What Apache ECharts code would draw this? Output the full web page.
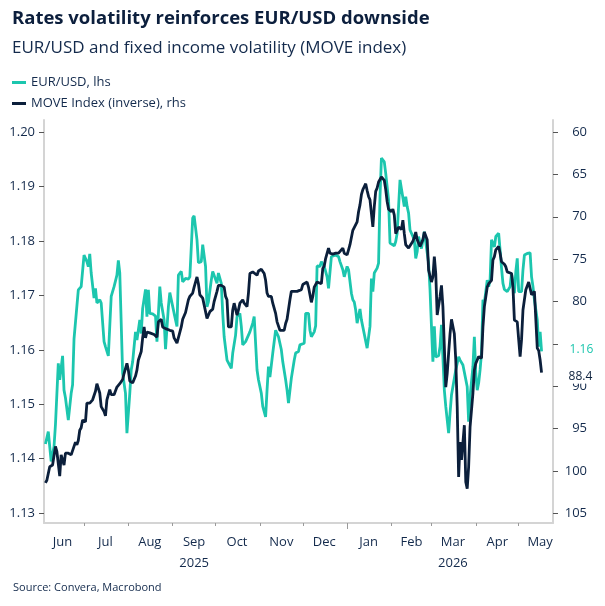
<!DOCTYPE html>
<html>
<head>
<meta charset="utf-8">
<script src="https://cdn.jsdelivr.net/npm/echarts@6/dist/echarts.min.js"></script>
<style>
  html, body { margin: 0; padding: 0; background: #fff; }
  #chart { width: 605px; height: 606px; }
</style>
</head>
<body>
<div id="chart"></div>
<script>
// EUR/USD, left axis
const eurDates = [
  '2025-06-04','2025-06-06','2025-06-08','2025-06-10','2025-06-11','2025-06-13','2025-06-14','2025-06-16','2025-06-17','2025-06-18',
  '2025-06-20','2025-06-22','2025-06-23','2025-06-24','2025-06-25','2025-06-27','2025-06-29','2025-07-01','2025-07-03','2025-07-04',
  '2025-07-05','2025-07-06','2025-07-08','2025-07-09','2025-07-10','2025-07-12','2025-07-13','2025-07-15','2025-07-16','2025-07-18',
  '2025-07-20','2025-07-22','2025-07-24','2025-07-25','2025-07-26','2025-07-28','2025-07-30','2025-07-31','2025-08-02','2025-08-03',
  '2025-08-04','2025-08-06','2025-08-07','2025-08-09','2025-08-10','2025-08-11','2025-08-13','2025-08-14','2025-08-15','2025-08-16',
  '2025-08-18','2025-08-20','2025-08-21','2025-08-23','2025-08-24','2025-08-26','2025-08-27','2025-08-29','2025-08-30','2025-08-31',
  '2025-09-02','2025-09-03','2025-09-04','2025-09-05','2025-09-07','2025-09-08','2025-09-10','2025-09-12','2025-09-13','2025-09-15',
  '2025-09-16','2025-09-18','2025-09-19','2025-09-21','2025-09-22','2025-09-24','2025-09-25','2025-09-26','2025-09-28','2025-09-29',
  '2025-09-30','2025-10-02','2025-10-03','2025-10-05','2025-10-06','2025-10-07','2025-10-09','2025-10-10','2025-10-12','2025-10-13',
  '2025-10-15','2025-10-16','2025-10-18','2025-10-19','2025-10-20','2025-10-22','2025-10-23','2025-10-25','2025-10-27','2025-10-28',
  '2025-10-30','2025-10-31','2025-11-02','2025-11-03','2025-11-05','2025-11-06','2025-11-07','2025-11-08','2025-11-10','2025-11-11',
  '2025-11-12','2025-11-14','2025-11-16','2025-11-17','2025-11-19','2025-11-20','2025-11-21','2025-11-23','2025-11-25','2025-11-26',
  '2025-11-28','2025-11-29','2025-11-30','2025-12-02','2025-12-03','2025-12-05','2025-12-06','2025-12-07','2025-12-09','2025-12-10',
  '2025-12-11','2025-12-12','2025-12-13','2025-12-14','2025-12-15','2025-12-16','2025-12-18','2025-12-19','2025-12-21','2025-12-22',
  '2025-12-24','2025-12-26','2025-12-27','2025-12-29','2025-12-30','2026-01-01','2026-01-02','2026-01-04','2026-01-05','2026-01-06',
  '2026-01-07','2026-01-08','2026-01-10','2026-01-11','2026-01-12','2026-01-15','2026-01-16','2026-01-17','2026-01-18','2026-01-19',
  '2026-01-20','2026-01-22','2026-01-23','2026-01-24','2026-01-25','2026-01-26','2026-01-27','2026-01-28','2026-01-30','2026-01-31',
  '2026-02-01','2026-02-03','2026-02-04','2026-02-05','2026-02-06','2026-02-07','2026-02-08','2026-02-10','2026-02-11','2026-02-12',
  '2026-02-13','2026-02-14','2026-02-15','2026-02-17','2026-02-18','2026-02-19','2026-02-20','2026-02-21','2026-02-22','2026-02-24',
  '2026-02-25','2026-02-27','2026-02-28','2026-03-01','2026-03-02','2026-03-03','2026-03-04','2026-03-05','2026-03-06','2026-03-07',
  '2026-03-08','2026-03-10','2026-03-11','2026-03-13','2026-03-14','2026-03-15','2026-03-16','2026-03-18','2026-03-20','2026-03-21',
  '2026-03-23','2026-03-24','2026-03-26','2026-03-27','2026-03-28','2026-03-30','2026-03-31','2026-04-01','2026-04-02','2026-04-03',
  '2026-04-04','2026-04-05','2026-04-06','2026-04-07','2026-04-09','2026-04-10','2026-04-11','2026-04-12','2026-04-13','2026-04-14',
  '2026-04-15','2026-04-17','2026-04-18','2026-04-19','2026-04-20','2026-04-21','2026-04-23','2026-04-25','2026-04-26','2026-04-28',
  '2026-04-29','2026-04-30','2026-05-01','2026-05-03','2026-05-04','2026-05-05','2026-05-07','2026-05-09','2026-05-10','2026-05-11',
  '2026-05-12','2026-05-14','2026-05-15','2026-05-16','2026-05-17'
]
const eurValues = [
  1.1427,1.1450,1.1395,1.1422,1.1462,1.1575,1.1545,1.1589,1.1526,1.1512,
  1.1471,1.1520,1.1536,1.1620,1.1622,1.1710,1.1716,1.1774,1.1762,1.1753,
  1.1776,1.1741,1.1695,1.1713,1.1686,1.1692,1.1686,1.1615,1.1606,1.1589,
  1.1698,1.1716,1.1737,1.1764,1.1741,1.1557,1.1520,1.1447,1.1520,1.1563,
  1.1578,1.1633,1.1618,1.1655,1.1630,1.1676,1.1711,1.1661,1.1710,1.1667,
  1.1666,1.1662,1.1615,1.1716,1.1686,1.1655,1.1601,1.1679,1.1705,1.1707,
  1.1667,1.1670,1.1643,1.1737,1.1744,1.1725,1.1731,1.1730,1.1734,1.1842,
  1.1846,1.1802,1.1760,1.1762,1.1793,1.1753,1.1679,1.1688,1.1728,1.1744,
  1.1741,1.1722,1.1741,1.1722,1.1667,1.1624,1.1581,1.1578,1.1566,1.1594,
  1.1627,1.1661,1.1667,1.1643,1.1609,1.1615,1.1618,1.1633,1.1649,1.1661,
  1.1563,1.1545,1.1520,1.1496,1.1477,1.1526,1.1569,1.1550,1.1594,1.1595,
  1.1636,1.1624,1.1600,1.1578,1.1545,1.1526,1.1502,1.1548,1.1581,1.1594,
  1.1597,1.1609,1.1606,1.1612,1.1667,1.1667,1.1636,1.1624,1.1633,1.1644,
  1.1754,1.1754,1.1753,1.1762,1.1764,1.1753,1.1734,1.1713,1.1771,1.1774,
  1.1774,1.1771,1.1762,1.1747,1.1734,1.1753,1.1747,1.1704,1.1692,1.1688,
  1.1673,1.1649,1.1675,1.1655,1.1656,1.1603,1.1600,1.1643,1.1731,1.1707,
  1.1741,1.1750,1.1759,1.1881,1.1952,1.1955,1.1945,1.1924,1.1875,1.1796,
  1.1799,1.1791,1.1799,1.1814,1.1863,1.1912,1.1912,1.1863,1.1881,1.1863,
  1.1851,1.1820,1.1817,1.1802,1.1768,1.1780,1.1808,1.1796,1.1786,1.1817,
  1.1814,1.1759,1.1710,1.1643,1.1578,1.1643,1.1587,1.1585,1.1589,1.1606,
  1.1646,1.1526,1.1496,1.1447,1.1484,1.1517,1.1517,1.1563,1.1587,1.1581,
  1.1572,1.1569,1.1532,1.1468,1.1514,1.1569,1.1624,1.1557,1.1526,1.1539,
  1.1563,1.1594,1.1692,1.1686,1.1728,1.1716,1.1728,1.1802,1.1799,1.1789,
  1.1808,1.1814,1.1783,1.1750,1.1722,1.1711,1.1707,1.1716,1.1741,1.1704,
  1.1744,1.1768,1.1707,1.1707,1.1747,1.1774,1.1777,1.1778,1.1734,1.1716,
  1.1692,1.1655,1.1606,1.1633,1.1597
]

// MOVE index, right axis (inverted)
const moveDates = [
  '2025-06-04','2025-06-05','2025-06-07','2025-06-08','2025-06-09','2025-06-11','2025-06-12','2025-06-14','2025-06-15','2025-06-17',
  '2025-06-18','2025-06-20','2025-06-22','2025-06-23','2025-06-25','2025-06-26','2025-06-27','2025-06-28','2025-06-29','2025-06-30',
  '2025-07-02','2025-07-03','2025-07-05','2025-07-07','2025-07-09','2025-07-10','2025-07-12','2025-07-13','2025-07-15','2025-07-16',
  '2025-07-17','2025-07-19','2025-07-20','2025-07-22','2025-07-23','2025-07-24','2025-07-26','2025-07-28','2025-07-29','2025-07-31',
  '2025-08-01','2025-08-02','2025-08-04','2025-08-06','2025-08-07','2025-08-08','2025-08-10','2025-08-11','2025-08-12','2025-08-13',
  '2025-08-14','2025-08-16','2025-08-17','2025-08-19','2025-08-21','2025-08-22','2025-08-24','2025-08-25','2025-08-27','2025-08-28',
  '2025-08-30','2025-09-01','2025-09-02','2025-09-04','2025-09-05','2025-09-07','2025-09-08','2025-09-10','2025-09-12','2025-09-13',
  '2025-09-15','2025-09-16','2025-09-18','2025-09-19','2025-09-20','2025-09-22','2025-09-23','2025-09-25','2025-09-26','2025-09-27',
  '2025-09-29','2025-09-30','2025-10-02','2025-10-03','2025-10-05','2025-10-07','2025-10-08','2025-10-09','2025-10-10','2025-10-12',
  '2025-10-13','2025-10-14','2025-10-16','2025-10-17','2025-10-18','2025-10-20','2025-10-21','2025-10-22','2025-10-23','2025-10-24',
  '2025-10-25','2025-10-27','2025-10-28','2025-10-30','2025-10-31','2025-11-02','2025-11-04','2025-11-05','2025-11-06','2025-11-07',
  '2025-11-09','2025-11-10','2025-11-12','2025-11-13','2025-11-15','2025-11-16','2025-11-18','2025-11-19','2025-11-20','2025-11-21',
  '2025-11-22','2025-11-23','2025-11-25','2025-11-27','2025-11-28','2025-11-30','2025-12-01','2025-12-04','2025-12-05','2025-12-07',
  '2025-12-08','2025-12-09','2025-12-11','2025-12-12','2025-12-14','2025-12-15','2025-12-16','2025-12-17','2025-12-19','2025-12-20',
  '2025-12-22','2025-12-24','2025-12-26','2025-12-27','2025-12-29','2025-12-30','2026-01-01','2026-01-02','2026-01-03','2026-01-05',
  '2026-01-06','2026-01-08','2026-01-09','2026-01-10','2026-01-11','2026-01-12','2026-01-14','2026-01-15','2026-01-16','2026-01-17',
  '2026-01-19','2026-01-20','2026-01-21','2026-01-22','2026-01-23','2026-01-25','2026-01-26','2026-01-27','2026-01-28','2026-01-29',
  '2026-01-30','2026-02-01','2026-02-02','2026-02-03','2026-02-04','2026-02-06','2026-02-07','2026-02-08','2026-02-09','2026-02-10',
  '2026-02-11','2026-02-13','2026-02-14','2026-02-16','2026-02-17','2026-02-18','2026-02-19','2026-02-20','2026-02-21','2026-02-23',
  '2026-02-24','2026-02-25','2026-02-26','2026-02-27','2026-02-28','2026-03-01','2026-03-02','2026-03-03','2026-03-04','2026-03-05',
  '2026-03-06','2026-03-07','2026-03-08','2026-03-09','2026-03-11','2026-03-12','2026-03-13','2026-03-14','2026-03-15','2026-03-17',
  '2026-03-18','2026-03-19','2026-03-20','2026-03-21','2026-03-22','2026-03-24','2026-03-25','2026-03-26','2026-03-27','2026-03-28',
  '2026-03-30','2026-03-31','2026-04-01','2026-04-02','2026-04-03','2026-04-05','2026-04-06','2026-04-07','2026-04-09','2026-04-10',
  '2026-04-11','2026-04-12','2026-04-13','2026-04-14','2026-04-15','2026-04-17','2026-04-18','2026-04-19','2026-04-21','2026-04-22',
  '2026-04-23','2026-04-24','2026-04-26','2026-04-27','2026-04-28','2026-04-29','2026-04-30','2026-05-01','2026-05-02','2026-05-03',
  '2026-05-04','2026-05-05','2026-05-06','2026-05-08','2026-05-09','2026-05-10','2026-05-11','2026-05-12','2026-05-14','2026-05-15',
  '2026-05-16','2026-05-17'
]
const moveValues = [
  101.4,101.1,99.5,99.7,99.3,97.1,97.7,100.6,98.1,99.3,
  97.9,97.9,98.1,98.3,96.6,96.9,96.4,95.2,94.9,94.0,
  94.2,92.0,92.0,91.6,90.6,89.7,90.8,92.4,93.0,93.5,
  91.6,90.4,91.0,91.0,91.2,90.1,89.7,89.2,88.5,87.3,
  88.1,89.4,89.6,88.8,88.1,86.9,85.9,84.3,83.0,84.3,
  83.6,83.7,83.8,83.9,84.2,82.4,82.1,83.0,83.2,83.4,
  83.4,83.5,84.3,84.9,84.7,83.0,82.1,81.3,79.8,79.4,
  79.0,78.3,77.1,77.9,79.2,79.6,80.4,82.0,82.2,81.2,
  80.9,80.0,78.8,78.1,78.1,78.3,79.4,79.8,83.0,83.0,
  81.0,80.2,81.6,81.0,80.2,79.8,80.2,80.1,80.6,79.0,
  76.7,76.5,76.5,76.9,76.4,76.2,76.7,77.5,79.0,79.4,
  79.4,80.2,81.4,82.4,83.4,83.6,83.4,82.6,82.1,82.0,
  79.8,78.8,78.8,78.8,78.8,78.6,78.0,77.7,78.3,80.1,
  79.4,78.3,77.7,77.7,77.9,76.1,75.8,74.9,73.7,74.3,
  74.4,74.3,74.3,74.2,73.7,74.3,74.5,73.9,73.3,71.6,
  71.5,70.6,69.4,68.6,67.4,66.8,66.1,66.9,67.6,68.0,
  71.2,68.8,67.0,66.6,65.9,65.3,65.1,65.7,66.8,68.2,
  69.1,69.4,69.1,69.8,72.0,71.2,71.2,71.5,70.4,72.0,
  73.3,73.7,73.5,72.9,72.4,71.8,72.7,73.1,73.5,72.7,
  71.8,71.6,72.7,76.3,76.1,77.7,77.1,74.7,76.7,81.6,
  81.4,79.4,78.1,80.6,90.1,88.5,86.1,83.8,82.1,83.8,
  86.9,92.4,100.7,96.6,98.7,94.6,101.3,102.1,99.5,94.8,
  90.8,88.1,87.3,86.9,86.5,86.7,83.0,80.6,78.3,77.9,
  77.9,77.5,75.1,74.7,73.9,73.5,74.3,75.3,75.6,75.9,
  76.5,76.5,76.7,78.3,82.2,82.2,82.4,84.5,86.5,84.5,
  81.0,79.8,78.6,77.7,77.9,79.2,79.4,78.8,85.5,85.8,
  86.9,88.4
]

// axis ticks and labels
const leftTicks = [1.13, 1.14, 1.15, 1.16, 1.17, 1.18, 1.19, 1.20]
const rightTicks = [60, 65, 70, 75, 80, 85, 90, 95, 100, 105]
const monthStarts = ['2025-07-01','2025-08-01','2025-09-01','2025-10-01','2025-11-01','2025-12-01',
  '2026-01-01','2026-02-01','2026-03-01','2026-04-01','2026-05-01']
const yearStart = '2026-01-01'
const monthLabelDates = ['2025-06-16','2025-07-16','2025-08-16','2025-09-16','2025-10-16','2025-11-16',
  '2025-12-16','2026-01-16','2026-02-15','2026-03-16','2026-04-16','2026-05-16']
const monthLabels = ['Jun','Jul','Aug','Sep\n2025','Oct','Nov','Dec','Jan','Feb','Mar\n2026','Apr','May']

const TEAL = '#1cc6ae'
const NAVY = '#0b1f3b'
const TEXT = '#132a4c'
const FONT = 'Open Sans'

const t = s => Date.parse(s)
const labelByTime = {}
monthLabelDates.forEach((d, i) => { labelByTime[t(d)] = monthLabels[i] })

const chart = echarts.init(document.getElementById('chart'))

chart.setOption({
  animation: false,
  textStyle: { fontFamily: FONT },
  title: [{
    text: 'Rates volatility reinforces EUR/USD downside',
    left: 7,
    top: 4,
    textStyle: { fontSize: 18.5, fontWeight: 'bold', color: '#0c1f3d', fontFamily: FONT }
  }, {
    text: 'EUR/USD and fixed income volatility (MOVE index)',
    left: 7,
    top: 35,
    textStyle: { fontSize: 17, fontWeight: 'normal', color: TEXT, fontFamily: FONT }
  }, {
    text: 'Source: Convera, Macrobond',
    left: 8,
    top: 577,
    textStyle: { fontSize: 11, fontWeight: 'normal', color: TEXT, fontFamily: FONT }
  }],
  legend: {
    orient: 'vertical',
    left: 7,
    top: 71,
    icon: 'rect',
    itemWidth: 14,
    itemHeight: 3,
    itemGap: 8,
    textStyle: { fontSize: 13, color: TEXT, fontFamily: FONT },
    data: ['EUR/USD, lhs', 'MOVE Index (inverse), rhs']
  },
  grid: { left: 44, right: 52, top: 120, bottom: 83 },
  xAxis: [{
    type: 'value',
    min: t('2025-06-03'),
    max: t('2026-05-25'),
    axisLine: { lineStyle: { color: '#d4d4d4', width: 2 } },
    axisTick: { customValues: monthStarts.map(t), length: 3, lineStyle: { color: '#9a9a9a' } },
    axisLabel: {
      customValues: monthLabelDates.map(t),
      formatter: v => labelByTime[v] || '',
      color: TEXT, fontSize: 13, lineHeight: 21, margin: 9
    },
    splitLine: { show: false }
  }, {
    type: 'value',
    min: t('2025-06-03'),
    max: t('2026-05-25'),
    position: 'bottom',
    axisLine: { show: false },
    axisTick: { customValues: [t(yearStart)], length: 6, lineStyle: { color: '#9a9a9a' } },
    axisLabel: { show: false },
    splitLine: { show: false }
  }],
  yAxis: [{
    type: 'value',
    position: 'left',
    min: 1.1282,
    max: 1.2022,
    axisLine: { show: true, lineStyle: { color: '#d4d4d4', width: 2 } },
    axisTick: { show: true, customValues: leftTicks, length: 5, lineStyle: { color: '#555' } },
    axisLabel: { customValues: leftTicks, formatter: v => v.toFixed(2), color: TEXT, fontSize: 13, margin: 9 },
    splitLine: { show: false }
  }, {
    type: 'value',
    position: 'right',
    inverse: true,
    min: 58.58,
    max: 106.14,
    axisLine: { show: true, lineStyle: { color: '#d4d4d4', width: 2 } },
    axisTick: { show: true, customValues: rightTicks, length: 5, lineStyle: { color: '#555' } },
    axisLabel: { customValues: rightTicks, color: TEXT, fontSize: 13, margin: 34, align: 'right' },
    splitLine: { show: false }
  }],
  series: [{
    name: 'EUR/USD, lhs',
    type: 'line',
    yAxisIndex: 0,
    showSymbol: false,
    symbol: 'none',
    color: TEAL,
    lineStyle: { width: 2.8, color: TEAL },
    z: 2,
    data: eurDates.map((d, i) => [t(d), eurValues[i]]),
    endLabel: {
      show: true,
      formatter: p => p.value[1].toFixed(2),
      color: TEAL, fontSize: 12, fontFamily: FONT,
      distance: 25, offset: [0, -2], backgroundColor: '#fff', padding: [10, 4, 3, 3]
    }
  }, {
    name: 'MOVE Index (inverse), rhs',
    type: 'line',
    yAxisIndex: 1,
    showSymbol: false,
    symbol: 'none',
    color: NAVY,
    lineStyle: { width: 2.8, color: NAVY },
    z: 3,
    data: moveDates.map((d, i) => [t(d), moveValues[i]]),
    endLabel: {
      show: true,
      formatter: p => p.value[1].toFixed(1),
      color: NAVY, fontSize: 12, fontFamily: FONT,
      distance: 24, offset: [0, 4], backgroundColor: '#fff', padding: [1, 3]
    }
  }]
})
</script>
</body>
</html>
